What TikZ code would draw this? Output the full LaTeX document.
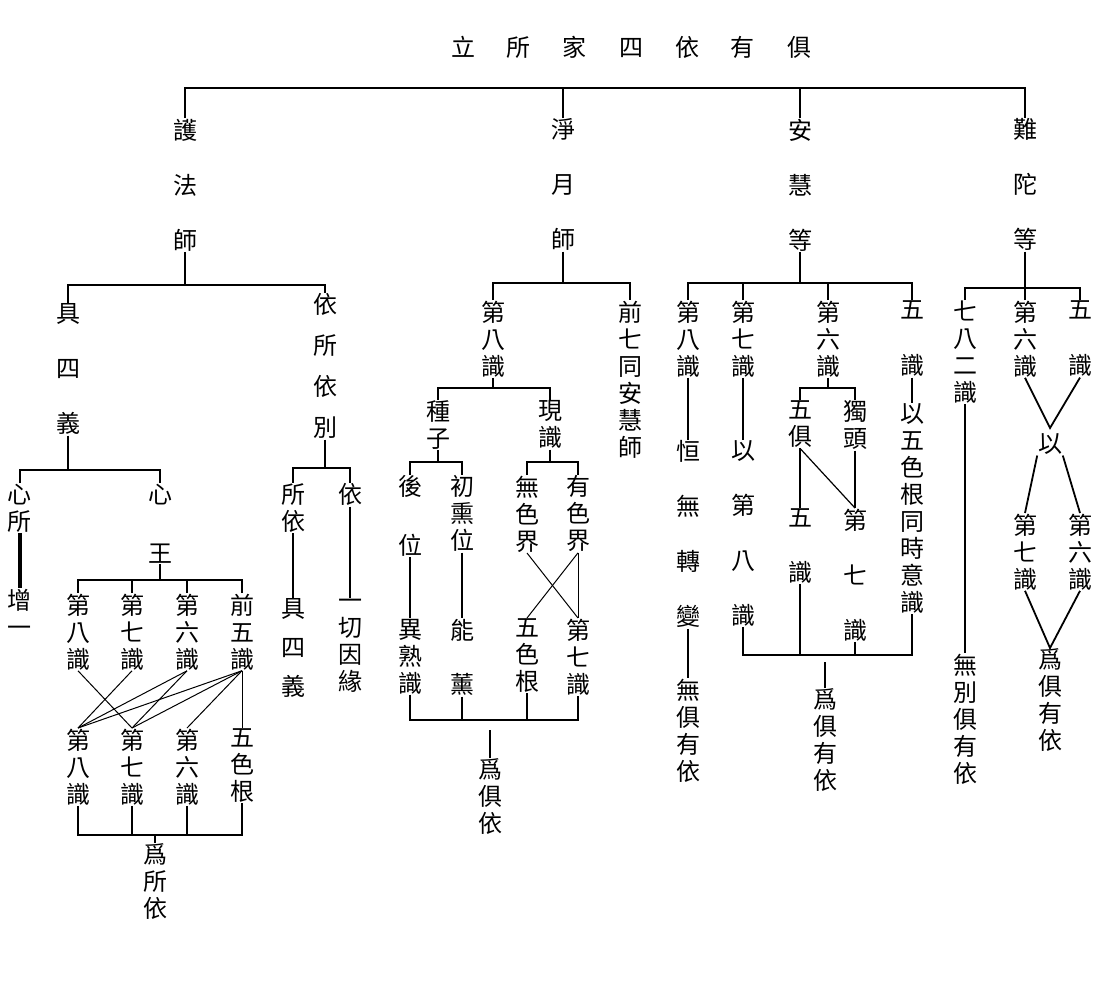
\documentclass[tikz,border=0pt]{standalone}
\usepackage{fontspec}
\newfontfamily\cjk{Noto Sans CJK TC}
\begin{document}
\begin{tikzpicture}[x=0.5pt,y=-0.5pt,line width=0.8pt,
 vt/.style={font=\cjk\fontsize{12}{13.5}\selectfont,align=center,inner sep=0pt,anchor=north},
 ln/.style={line width=0.9pt}]
\useasboundingbox (0,0) rectangle (1112,982);
\def\sp{\\[14pt]}
% title
\node[vt,anchor=center] (title) at (631,47) {立\hspace{16pt}所\hspace{16pt}家\hspace{16pt}四\hspace{16pt}依\hspace{16pt}有\hspace{16pt}俱};
% level 1
\node[vt] (hu) at (185,118) {護\sp 法\sp 師};
\node[vt] (jing) at (563,118) {淨\sp 月\sp 師};
\node[vt] (an) at (800,118) {安\sp 慧\sp 等};
\node[vt] (nan) at (1025,118) {難\sp 陀\sp 等};
\draw[ln] (hu.north) -- (hu.north |- 0,88) -- (nan.north |- 0,88) -- (nan.north);
\draw[ln] (jing.north) -- (jing.north |- 0,88);
\draw[ln] (an.north) -- (an.north |- 0,88);
% ===== 護法師
\node[vt] (ju) at (68,303) {具\sp 四\sp 義};
\node[vt] (yisuo) at (325,293) {依\\[7pt]所\\[7pt]依\\[7pt]別};
\draw[ln] (hu.south) -- (hu.south |- 0,285);
\draw[ln] (ju.north) -- (ju.north |- 0,285) -- (yisuo.north |- 0,285) -- (yisuo.north);
\node[vt] (xinsuo) at (20,483) {心\\所};
\node[vt] (zengyi) at (20,588) {增\\一};
\draw[line width=1.6pt] (xinsuo.south) -- (zengyi.north);
\node[vt] (xin) at (160,483) {心};
\node[vt] (wang) at (160,543) {王};
\draw[ln] (ju.south) -- (ju.south |- 0,470);
\draw[ln] (xinsuo.north) -- (xinsuo.north |- 0,470) -- (xin.north |- 0,470) -- (xin.north);
\node[vt] (a8) at (78,593) {第\\八\\識};
\node[vt] (a7) at (132,593) {第\\七\\識};
\node[vt] (a6) at (187,593) {第\\六\\識};
\node[vt] (a5) at (242,593) {前\\五\\識};
\draw[ln] (wang.south) -- (wang.south |- 0,580);
\draw[ln] (a8.north) -- (a8.north |- 0,580) -- (a5.north |- 0,580) -- (a5.north);
\draw[ln] (a7.north) -- (a7.north |- 0,580);
\draw[ln] (a6.north) -- (a6.north |- 0,580);
\node[vt] (b8) at (78,728) {第\\八\\識};
\node[vt] (b7) at (132,728) {第\\七\\識};
\node[vt] (b6) at (187,728) {第\\六\\識};
\node[vt] (b5) at (242,728) {五\\色\\根};
\draw[line width=0.5pt] (a8.south) -- (b7.north);
\draw[line width=0.5pt] (a7.south) -- (b8.north);
\draw[line width=0.5pt] (a6.south) -- (b8.north);
\draw[line width=0.5pt] (a6.south) -- (b7.north);
\draw[line width=0.5pt] (a5.south) -- (b8.north);
\draw[line width=0.5pt] (a5.south) -- (b7.north);
\draw[line width=0.5pt] (a5.south) -- (b6.north);
\draw[line width=0.5pt] (a5.south) -- (b5.north);
\node[vt] (weisuo) at (155,843) {爲\\所\\依};
\draw[ln] (b8.south) -- (b8.south |- 0,835) -- (b5.south |- 0,835) -- (b5.south);
\draw[ln] (b7.south) -- (b7.south |- 0,835);
\draw[ln] (b6.south) -- (b6.south |- 0,835);
\draw[ln] (weisuo.north) -- (weisuo.north |- 0,835);
\node[vt] (suoyi) at (293,483) {所\\依};
\node[vt] (jusi) at (293,598) {具\\[6pt]四\\[6pt]義};
\node[vt] (yi1) at (350,483) {依};
\node[vt] (yiqie) at (350,598) {一\\切\\因\\緣};
\draw[ln] (yisuo.south) -- (yisuo.south |- 0,468);
\draw[ln] (suoyi.north) -- (suoyi.north |- 0,468) -- (yi1.north |- 0,468) -- (yi1.north);
\draw[line width=1.4pt] (suoyi.south) -- (jusi.north);
\draw[ln] (yi1.south) -- (yiqie.north);
% ===== 淨月師
\node[vt] (c8) at (493,300) {第\\八\\識};
\node[vt] (qian7) at (630,300) {前\\七\\同\\安\\慧\\師};
\draw[ln] (jing.south) -- (jing.south |- 0,283);
\draw[ln] (c8.north) -- (c8.north |- 0,283) -- (qian7.north |- 0,283) -- (qian7.north);
\node[vt] (zhong) at (438,400) {種\\子};
\node[vt] (xian) at (550,400) {現\\識};
\draw[ln] (c8.south) -- (c8.south |- 0,388);
\draw[ln] (zhong.north) -- (zhong.north |- 0,388) -- (xian.north |- 0,388) -- (xian.north);
\node[vt] (hou) at (410,475) {後};
\node[vt] (wei1) at (410,533) {位};
\node[vt] (chu) at (462,475) {初\\熏\\位};
\node[vt] (wuse) at (527,475) {無\\色\\界};
\node[vt] (youse) at (578,475) {有\\色\\界};
\draw[ln] (zhong.south) -- (zhong.south |- 0,462);
\draw[ln] (hou.north) -- (hou.north |- 0,462) -- (chu.north |- 0,462) -- (chu.north);
\draw[ln] (xian.south) -- (xian.south |- 0,462);
\draw[ln] (wuse.north) -- (wuse.north |- 0,462) -- (youse.north |- 0,462) -- (youse.north);
\node[vt] (yishu) at (410,618) {異\\熟\\識};
\node[vt] (neng) at (462,618) {能};
\node[vt] (xun) at (462,673) {薰};
\node[vt] (wugen) at (527,618) {五\\色\\根};
\node[vt] (d7) at (578,618) {第\\七\\識};
\draw[line width=1.4pt] (wei1.south) -- (yishu.north);
\draw[line width=1.4pt] (chu.south) -- (neng.north);
\draw[line width=0.5pt] (wuse.south) -- (d7.north);
\draw[line width=0.5pt] (youse.south) -- (wugen.north);
\draw[line width=0.5pt] (youse.south) -- (d7.north);
\draw[ln] (yishu.south) -- (yishu.south |- 0,720) -- (d7.south |- 0,720) -- (d7.south);
\draw[ln] (xun.south) -- (xun.south |- 0,720);
\draw[ln] (wugen.south) -- (wugen.south |- 0,720);
\node[vt] (weijuyi) at (490,758) {爲\\俱\\依};
\draw[ln] (weijuyi.north) -- ++(0,-28);
% ===== 安慧等
\node[vt] (e8) at (688,300) {第\\八\\識};
\node[vt] (e7) at (743,300) {第\\七\\識};
\node[vt] (e6) at (828,300) {第\\六\\識};
\node[vt] (e5a) at (912,300) {五};
\node[vt] (e5b) at (912,354) {識};
\draw[ln] (an.south) -- (an.south |- 0,283);
\draw[ln] (e8.north) -- (e8.north |- 0,283) -- (e5a.north |- 0,283) -- (e5a.north);
\draw[ln] (e7.north) -- (e7.north |- 0,283);
\draw[ln] (e6.north) -- (e6.north |- 0,283);
\node[vt] (heng) at (688,440) {恒\sp 無\sp 轉\sp 變};
\node[vt] (wujuyou) at (688,678) {無\\俱\\有\\依};
\draw[ln] (e8.south) -- (heng.north);
\draw[ln] (heng.south) -- (wujuyou.north);
\node[vt] (yi8) at (743,440) {以\sp 第\sp 八\sp 識};
\draw[ln] (e7.south) -- (yi8.north);
\node[vt] (wuju) at (800,400) {五\\俱};
\node[vt] (dutou) at (855,400) {獨\\頭};
\draw[ln] (e6.south) -- (e6.south |- 0,388);
\draw[ln] (wuju.north) -- (wuju.north |- 0,388) -- (dutou.north |- 0,388) -- (dutou.north);
\node[vt] (wu2) at (800,508) {五\sp 識};
\node[vt] (di7) at (855,508) {第\sp 七\sp 識};
\draw[ln] (wuju.south) -- (wu2.north);
\draw[ln] (dutou.south) -- (di7.north);
\draw[line width=0.6pt] (wuju.south) -- (di7.north);
\node[vt] (yiwuse) at (912,403) {以\\五\\色\\根\\同\\時\\意\\識};
\draw[ln] (e5b.south) -- (yiwuse.north);
\draw[ln] (yi8.south) -- (yi8.south |- 0,655) -- (yiwuse.south |- 0,655) -- (yiwuse.south);
\draw[ln] (wu2.south) -- (wu2.south |- 0,655);
\draw[ln] (di7.south) -- (di7.south |- 0,655);
\node[vt] (weijuyou) at (825,688) {爲\\俱\\有\\依};
\draw[ln] (weijuyou.north) -- ++(0,-26);
% ===== 難陀等
\node[vt] (f78) at (965,300) {七\\八\\二\\識};
\node[vt] (f6) at (1025,300) {第\\六\\識};
\node[vt] (f5a) at (1080,300) {五};
\node[vt] (f5b) at (1080,354) {識};
\draw[ln] (nan.south) -- (nan.south |- 0,288);
\draw[ln] (f78.north) -- (f78.north |- 0,288) -- (f5a.north |- 0,288) -- (f5a.north);
\draw[ln] (f6.north) -- (f6.north |- 0,288);
\node[vt] (wubie) at (965,653) {無\\別\\俱\\有\\依};
\draw[ln] (f78.south) -- (wubie.north);
\node[vt] (yi2) at (1050,433) {以};
\coordinate (v1) at (1050,428);
\draw[ln] (f6.south) -- (v1) -- (f5b.south);
\node[vt] (g7) at (1025,513) {第\\七\\識};
\node[vt] (g6) at (1080,513) {第\\六\\識};
\draw[ln] (yi2.south west) -- (g7.north);
\draw[ln] (yi2.south east) -- (g6.north);
\node[vt] (weijuyou2) at (1050,648) {爲\\俱\\有\\依};
\draw[ln] (g7.south) -- (weijuyou2.north) -- (g6.south);
\end{tikzpicture}
\end{document}
